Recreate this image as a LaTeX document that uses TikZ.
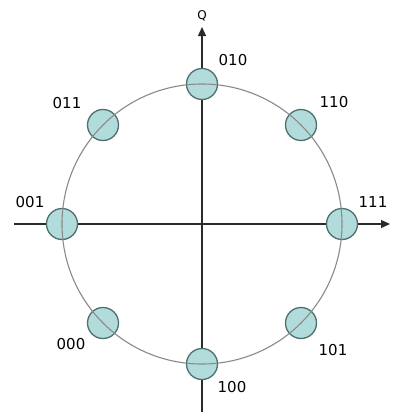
\documentclass[tikz,border=0pt]{standalone}
\usepackage{fontspec}
\setmainfont{DejaVu Sans}
\usetikzlibrary{arrows.meta}
\definecolor{dotfill}{HTML}{B2DCDC}
\definecolor{dotedge}{HTML}{4F6F6F}
\definecolor{ringcol}{HTML}{8A8A8A}
\definecolor{axiscol}{HTML}{2A2A2A}
\tikzset{
  pt/.style={circle,draw=dotedge,fill=dotfill,line width=1.3pt,minimum size=31pt,inner sep=0pt},
  lab/.style={font=\fontsize{15}{15}\selectfont,text=black,inner sep=0pt},
  axis/.style={draw=axiscol,line width=1.3pt},
  ring/.style={draw=ringcol,line width=1.1pt}
}
\begin{document}
\begin{tikzpicture}[x=1pt,y=-1pt]
\useasboundingbox (0,0) rectangle (394,415);
\fill[white] (0,0) rectangle (394,415);
\coordinate (c) at (202,224);
\coordinate (xl) at (14,224);
\coordinate (xr) at (390,224);
\coordinate (yt) at (202,27);
\coordinate (yb) at (202,412);
\draw[axis,-{Triangle[length=9pt,width=8pt]}] (xl) -- (xr);
\draw[axis,-{Triangle[length=9pt,width=8pt]}] (yb) -- (yt);
\node[pt] (p010) at (202,84) {};
\node[pt] (p100) at (202,364) {};
\node[pt] (p001) at (62,224) {};
\node[pt] (p111) at (342,224) {};
\node[pt] (p011) at (103,125) {};
\node[pt] (p110) at (301,125) {};
\node[pt] (p000) at (103,323) {};
\node[pt] (p101) at (301,323) {};
\draw[ring] (c) circle[radius=140];
\node[lab] (l010) at (233,60) {010};
\node[lab] (l011) at (67,103) {011};
\node[lab] (l110) at (334,102) {110};
\node[lab] (l001) at (30,202) {001};
\node[lab] (l111) at (373,202) {111};
\node[lab] (l000) at (71,344) {000};
\node[lab] (l101) at (333,350) {101};
\node[lab] (l100) at (232,387) {100};
\node[font=\fontsize{12}{12}\selectfont,inner sep=0pt] (q) at (202,16) {Q};
\end{tikzpicture}
\end{document}
